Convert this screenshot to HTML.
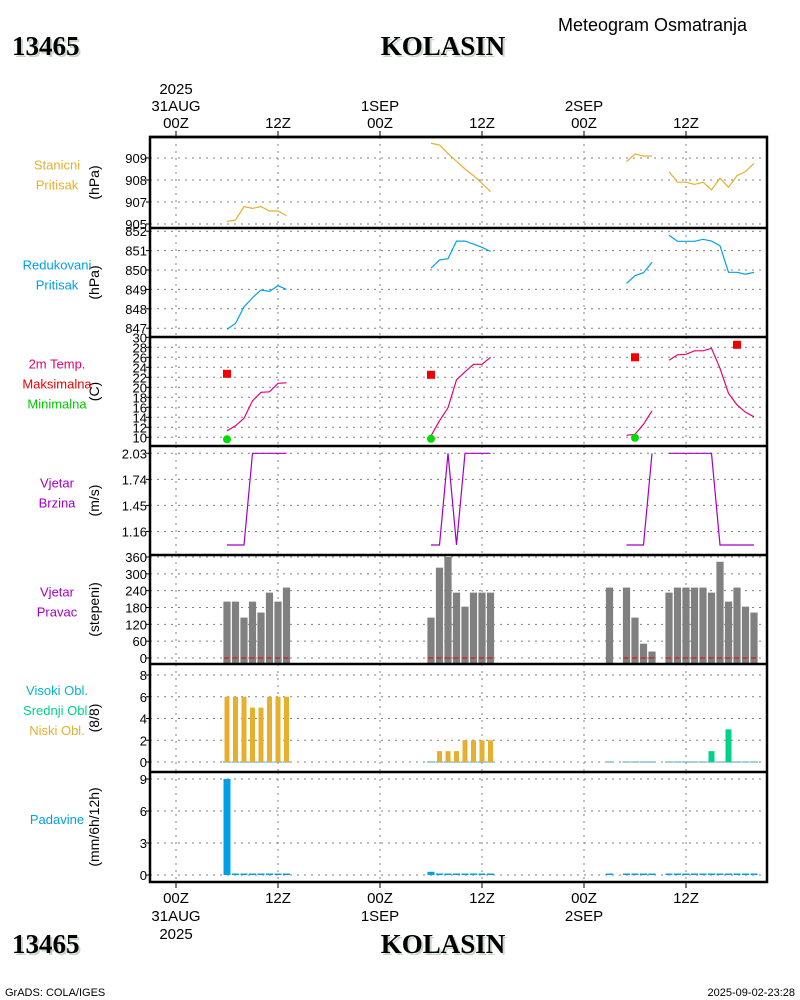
<!DOCTYPE html>
<html><head><meta charset="utf-8"><style>
body{margin:0;background:#fff;width:800px;height:1000px;overflow:hidden}
svg{display:block}
text{font-family:"Liberation Sans",sans-serif}
.t{font-family:"Liberation Serif",serif;font-weight:bold;font-size:27px}
</style></head><body>
<svg id="s" width="800" height="1000" xmlns="http://www.w3.org/2000/svg">
<g>
<text x="558" y="31" font-size="18">Meteogram Osmatranja</text>
<text class="t" x="14" y="57" fill="#c8d8c8">13465</text>
<text class="t" x="12" y="55">13465</text>
<text class="t" x="445" y="57" fill="#c8d8c8" text-anchor="middle">KOLASIN</text>
<text class="t" x="443" y="55" text-anchor="middle">KOLASIN</text>
<text class="t" x="14" y="955" fill="#c8d8c8">13465</text>
<text class="t" x="12" y="953">13465</text>
<text class="t" x="445" y="955" fill="#c8d8c8" text-anchor="middle">KOLASIN</text>
<text class="t" x="443" y="953" text-anchor="middle">KOLASIN</text>
<text x="5" y="996" font-size="11">GrADS: COLA/IGES</text>
<text x="795" y="996" font-size="11" text-anchor="end">2025-09-02-23:28</text>
</g>
<g id="plot"></g>
</svg>
<script>
// ---- data (hour offsets from 2025-08-31 00Z) ----
const stHours1=[6,7,8,9,10,11,12,13], stVals1=[906.12,906.18,906.79,906.71,906.79,906.59,906.59,906.38];
const stHours2=[30,31,32,33,34,35,36,37], stVals2=[909.67,909.59,909.2,908.85,908.5,908.2,907.85,907.47];
const stHours3=[53,54,55,56], stVals3=[908.83,909.18,909.09,909.09];
const stHours4=[58,59,60,61,62,63,64,65,66,67,68], stVals4=[908.38,907.9,907.9,907.8,907.9,907.55,908.08,907.67,908.2,908.38,908.76];
const rdVals1=[846.94,847.25,848.1,848.57,848.97,848.9,849.19,849.0];
const rdVals2=[850.09,850.52,850.58,851.49,851.49,851.34,851.17,850.96];
const rdVals3=[849.31,849.71,849.86,850.4];
const rdVals4=[851.79,851.48,851.48,851.48,851.58,851.49,851.25,849.88,849.88,849.78,849.88];
const tVals1=[11.3,12.3,13.8,17.3,19,19.1,20.8,20.9];
const tVals2=[10.3,13.3,15.9,21.5,23.1,24.6,24.6,26];
const tVals3=[10.4,10.6,12.6,15.3];
const tVals4=[25.4,26.5,26.6,27.3,27.3,27.8,23.8,18.8,16.5,15,14.1];
const tmaxHours=[6,30,54,66], tmaxVals=[22.7,22.5,26,28.5];
const tminHours=[6,30,54], tminVals=[9.6,9.7,9.9];
const wsVals1=[1.01,1.01,1.01,2.03,2.03,2.03,2.03,2.03];
const wsVals2=[1.01,1.01,2.03,1.01,2.03,2.03,2.03,2.03];
const wsVals3=[1.01,1.01,1.01,2.03];
const wsVals4=[2.03,2.03,2.03,2.03,2.03,2.03,1.01,1.01,1.01,1.01,1.01];
const wdHours=[6,7,8,9,10,11,12,13,30,31,32,33,34,35,36,37,51,53,54,55,56,58,59,60,61,62,63,64,65,66,67,68];
const wdVals=[201,201,144,201,162,233,201,251,144,322,360,233,183,233,233,233,251,251,144,51,23,233,251,251,251,251,233,343,201,251,183,162];
const lowVals=[6,6,6,5,5,6,6,6,0,1,1,1,2,2,2,2,0,0,0,0,0,0,0,0,0,0,0,0,0,0,0,0];
const midVals=[0,0,0,0,0,0,0,0,0,0,0,0,0,0,0,0,0,0,0,0,0,0,0,0,0,0,1,0,3,0,0,0];
const prVals=[9,0.1,0.1,0.1,0.1,0.1,0.1,0.1,0.3,0.1,0.1,0.1,0.1,0.1,0.1,0.1,0.1,0.1,0.1,0.1,0.1,0.1,0.1,0.1,0.1,0.1,0.1,0.1,0.1,0.1,0.1,0.1];
const stTicks=[909,908,907,906], stTickLabels=["909","908","907","905"];
const rdTicks=[852,851,850,849,848,847];
const tTicks=[10,12,14,16,18,20,22,24,26,28,30];
const wsTicks=[2.03,1.74,1.45,1.16];
const wdTicks=[0,60,120,180,240,300,360];
const clTicks=[0,2,4,6,8];
const prTicks=[0,3,6,9];
const timeHours=[0,12,24,36,48,60];
const timeTop=[["2025","31AUG","00Z"],["12Z"],["1SEP","00Z"],["12Z"],["2SEP","00Z"],["12Z"]];
const timeBot=[["00Z","31AUG","2025"],["12Z"],["00Z","1SEP"],["12Z"],["00Z","2SEP"],["12Z"]];

const NS="http://www.w3.org/2000/svg", G=document.getElementById('plot');
const X=h=>176+h*8.5;
function el(tag,at,parent){const e=document.createElementNS(NS,tag);for(const k in at)e.setAttribute(k,at[k]);(parent||G).appendChild(e);return e;}
function txt(x,y,s,at,parent){const e=el('text',Object.assign({x:x,y:y,'font-size':13},at),parent);e.textContent=s;return e;}
const L=150,R=767;
function lin(v0,y0,v1,y1){return v=>y0+(v-v0)*(y1-y0)/(v1-v0);}
const panels=[
 {n:'station-pressure',top:137,bot:228,y:lin(909,158,906,224),ticks:stTicks,labels:stTickLabels,unit:'(hPa)',names:[['Stanicni','#e6af2e'],['Pritisak','#e6af2e']]},
 {n:'reduced-pressure',top:228,bot:337,y:lin(850,270,851,250.6),ticks:rdTicks,unit:'(hPa)',names:[['Redukovani','#00a0e6'],['Pritisak','#00a0e6']]},
 {n:'temperature',top:337,bot:446,y:lin(10,437.3,30,337.3),ticks:tTicks,unit:'(C)',names:[['2m Temp.','#e6006e'],['Maksimalna','#f00000'],['Minimalna','#00c800']]},
 {n:'wind-speed',top:446,bot:555,y:lin(2.03,453.3,1.16,531.5),ticks:wsTicks,unit:'(m/s)',names:[['Vjetar','#a000c8'],['Brzina','#a000c8']]},
 {n:'wind-direction',top:555,bot:664,y:lin(0,658,360,557),ticks:wdTicks,unit:'(stepeni)',names:[['Vjetar','#a000c8'],['Pravac','#a000c8']]},
 {n:'clouds',top:664,bot:772,y:lin(0,762,8,675),ticks:clTicks,unit:'(8/8)',names:[['Visoki Obl.','#00b4d2'],['Srednji Obl.','#00d28c'],['Niski Obl.','#e6af2e']]},
 {n:'precipitation',top:772,bot:882,y:lin(0,875,9,779),ticks:prTicks,unit:'(mm/6h/12h)',names:[['Padavine','#00a0e6']]}
];
panels.forEach(p=>{
 const g=el('g',{});
 
 
 p.g=g;
 timeHours.forEach(h=>{const l=el('line',{x1:X(h),x2:X(h),y1:p.top,y2:p.bot,stroke:'#808080','stroke-dasharray':'2,5'},g);
  });
 p.ticks.forEach((t,i)=>{const y=p.y(t);
  const l=el('line',{x1:L,x2:R,y1:y,y2:y,stroke:'#808080','stroke-dasharray':'2,5'},g);
  
  el('line',{x1:L-4,x2:L,y1:y,y2:y,stroke:'#000'},g);
  const tl=txt(L-3,y+5,p.labels?p.labels[i]:String(t),{'text-anchor':'end'},g);
  });
 const cy=(p.top+p.bot)/2;
 const u=txt(0,0,p.unit,{'text-anchor':'middle',transform:`translate(${L-51},${cy}) rotate(-90)`,'font-size':14},g);
 
 const n=p.names.length;
 p.names.forEach((nm,i)=>{const t=txt(57,cy-(n-1)*10+i*20-3,nm[0],{'text-anchor':'middle',fill:nm[1],'font-size':13},g);
  });
});
function poly(p,hours,vals,color,name){const pts=hours.map((h,i)=>X(h)+','+p.y(vals[i])).join(' ');
 const e=el('polyline',{points:pts,fill:'none',stroke:color,'stroke-width':1.2},p.g);
 }
const H1=stHours1,H2=stHours2,H3=stHours3,H4=stHours4;
[[H1,stVals1],[H2,stVals2],[H3,stVals3],[H4,stVals4]].forEach(a=>poly(panels[0],a[0],a[1],'#e6af2e','station-pressure-line'));
[[H1,rdVals1],[H2,rdVals2],[H3,rdVals3],[H4,rdVals4]].forEach(a=>poly(panels[1],a[0],a[1],'#00a0e6','reduced-pressure-line'));
[[H1,tVals1],[H2,tVals2],[H3,tVals3],[H4,tVals4]].forEach(a=>poly(panels[2],a[0],a[1],'#e6006e','temperature-line'));
tmaxHours.forEach((h,i)=>{const r=el('rect',{x:X(h)-4,y:panels[2].y(tmaxVals[i])-4,width:8,height:8,fill:'#f00000'},panels[2].g);
 });
tminHours.forEach((h,i)=>{const c=el('circle',{cx:X(h),cy:panels[2].y(tminVals[i]),r:4,fill:'#00dc00'},panels[2].g);
 });
function stepLine(p,hours,vals,name){const pts=hours.map((h,i)=>X(h)+','+p.y(vals[i])).join(' ');
 const e=el('polyline',{points:pts,fill:'none',stroke:'#a000c8','stroke-width':1.2},p.g);
 }
[[H1,wsVals1],[H2,wsVals2],[H3,wsVals3],[H4,wsVals4]].forEach(a=>stepLine(panels[3],a[0],a[1],'wind-speed-line'));
const pw=panels[4];
wdHours.forEach((h,i)=>{const y=pw.y(wdVals[i]);const r=el('rect',{x:X(h)-3.6,y:y,width:7.2,height:pw.y(0)+6-y,fill:'#808080'},pw.g);
 });
wdHours.forEach((h,i)=>{if(i===16)return;
 const d=el('line',{x1:X(h)-3,x2:X(h)+2,y1:pw.y(0),y2:pw.y(0),stroke:'#f00000','stroke-width':1},pw.g);
 });
const pc=panels[5];
wdHours.forEach((h,i)=>{const b=pc.y(0);
 const z=el('line',{x1:X(h)-4,x2:X(h)+4,y1:b,y2:b,stroke:'#4aa0b0','stroke-width':1},pc.g);
 
 if(lowVals[i]>0){const y=pc.y(lowVals[i]);const r=el('rect',{x:X(h)-2.5,y:y,width:5,height:b-y,fill:'#e6af2e'},pc.g);
  }
 if(midVals[i]>0){const y=pc.y(midVals[i]);const r=el('rect',{x:X(h)-3,y:y,width:6,height:b-y,fill:'#00d28c'},pc.g);
  }});
const pp=panels[6];
wdHours.forEach((h,i)=>{const b=pp.y(0),y=pp.y(prVals[i]);
 const r=el('rect',{x:X(h)-3.5,y:Math.min(y,b-1.5),width:7,height:Math.max(b-y,1.5),fill:'#00a0e6'},pp.g);
 });
panels.forEach(p=>{const f=el('line',{x1:L-1,x2:R+1,y1:p.top,y2:p.top,stroke:'#000','stroke-width':2.5});
 });
const fr=el('rect',{x:L,y:137,width:R-L,height:745,fill:'none',stroke:'#000','stroke-width':2.5});

timeHours.forEach((h,i)=>{
 el('line',{x1:X(h),x2:X(h),y1:131,y2:137,stroke:'#000'});
 el('line',{x1:X(h),x2:X(h),y1:882,y2:888,stroke:'#000'});
 const top=timeTop[i];top.forEach((s,j)=>{const t=txt(X(h),128-(top.length-1-j)*17,s,{'text-anchor':'middle','font-size':15});
  });
 timeBot[i].forEach((s,j)=>{const t=txt(X(h),903+j*18,s,{'text-anchor':'middle','font-size':15});
  });
});
</script>
</body></html>
